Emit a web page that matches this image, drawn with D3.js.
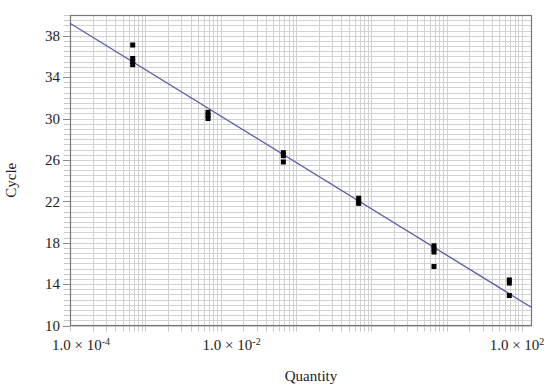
<!DOCTYPE html>
<html>
<head>
<meta charset="utf-8">
<script src="https://cdn.jsdelivr.net/npm/d3@7"></script>
<style>
  body { margin: 0; background: #fff; }
  svg { display: block; font-family: "Liberation Serif", "DejaVu Serif", serif; }
  .grid line { stroke: #d2d2d2; stroke-width: 1px; }
  .minor-tick { stroke: #c8c8c8; stroke-width: 1px; }
  .major-tick { stroke: #888; stroke-width: 1px; }
  .tick-label { font-size: 15px; fill: #222; }
  .axis-title { font-size: 15px; fill: #222; }
  .fit-line { stroke: #5b5ea6; stroke-width: 1.3px; fill: none; }
  .point { fill: #000; }
</style>
</head>
<body>
<svg id="chart" width="550" height="388"></svg>
<script>
// dilution series (Quantity) and measured cycles per dilution
const quantities = [6.8e-4, 6.8e-3, 6.8e-2, 6.8e-1, 6.8, 68];
const cycles = [
  [37.1, 35.8, 35.5, 35.2],
  [30.6, 30.3, 30.0],
  [26.7, 26.4, 25.8],
  [22.3, 22.0, 21.8],
  [17.7, 17.4, 17.1, 15.7],
  [14.4, 14.1, 12.9]
];
// standard curve: Cycle = intercept + slope * log10(Quantity)
const fitSlope = -4.48;
const fitIntercept = 21.28;

const xTicks = [1e-4, 1e-2, 1e2];
const xTickExp = ['-4', '-2', '2'];
const yTicks = [10, 14, 18, 22, 26, 30, 34, 38];

const margin = { top: 15, right: 18, bottom: 62, left: 70 };
const width = 550, height = 388;

const svg = d3.select('#chart');

const x = d3.scaleLog()
  .domain([1e-4, 136])
  .range([margin.left, width - margin.right]);

const y = d3.scaleLinear()
  .domain([10, 40])
  .range([height - margin.bottom - 0.5, margin.top]);

// log minor values for vertical grid
const xMinor = [];
for (let e = -4; e <= 2; e++) {
  for (let m = 1; m <= 9; m++) {
    const v = m * Math.pow(10, e);
    if (v >= x.domain()[0] && v <= x.domain()[1]) xMinor.push(v);
  }
}
const yMinor = d3.range(10, 40.01, 0.5);

// grid
const grid = svg.append('g').attr('class', 'grid');
grid.selectAll('.vg')
  .data(xMinor)
  .enter().append('line')
  .attr('x1', d => Math.round(x(d)) + 0.5)
  .attr('x2', d => Math.round(x(d)) + 0.5)
  .attr('y1', margin.top)
  .attr('y2', y(10));

grid.selectAll('.hg')
  .data(yMinor)
  .enter().append('line')
  .attr('x1', margin.left)
  .attr('x2', width - margin.right)
  .attr('y1', d => Math.round(y(d)) + 0.5)
  .attr('y2', d => Math.round(y(d)) + 0.5);

// outer minor ticks
svg.append('g').selectAll('line')
  .data(yMinor)
  .enter().append('line')
  .attr('class', 'minor-tick')
  .attr('x1', margin.left - 6)
  .attr('x2', margin.left)
  .attr('y1', d => Math.round(y(d)) + 0.5)
  .attr('y2', d => Math.round(y(d)) + 0.5);

svg.append('g').selectAll('line')
  .data(xMinor)
  .enter().append('line')
  .attr('class', 'minor-tick')
  .attr('x1', d => Math.round(x(d)) + 0.5)
  .attr('x2', d => Math.round(x(d)) + 0.5)
  .attr('y1', y(10))
  .attr('y2', y(10) + 6);

// major y ticks and labels
svg.append('g').selectAll('line')
  .data(yTicks)
  .enter().append('line')
  .attr('class', 'major-tick')
  .attr('x1', margin.left - 7)
  .attr('x2', margin.left)
  .attr('y1', d => Math.round(y(d)) + 0.5)
  .attr('y2', d => Math.round(y(d)) + 0.5);

svg.append('g').selectAll('text')
  .data(yTicks)
  .enter().append('text')
  .attr('class', 'tick-label')
  .attr('x', margin.left - 10)
  .attr('y', d => y(d))
  .attr('dy', '0.35em')
  .attr('text-anchor', 'end')
  .text(d => d);

// x tick labels: 1.0 × 10^n  (kept inside the window on the right)
const xl = svg.append('g').selectAll('text')
  .data(xTicks)
  .enter().append('text')
  .attr('class', 'tick-label')
  .attr('x', d => Math.min(x(d) + 11, width - 33))
  .attr('y', y(10) + 24)
  .attr('text-anchor', 'middle');
xl.append('tspan').text('1.0 \u00d7 10');
xl.append('tspan')
  .attr('dy', '-0.45em')
  .style('font-size', '10px')
  .text((d, i) => xTickExp[i]);

// frame
svg.append('rect')
  .attr('x', margin.left + 0.5)
  .attr('y', margin.top + 0.5)
  .attr('width', width - margin.right - margin.left - 1)
  .attr('height', y(10) - margin.top - 0.5)
  .attr('fill', 'none')
  .attr('stroke', '#777')
  .attr('stroke-width', 1.2);

// fit line
const lineGen = d3.line()
  .x(d => x(d))
  .y(d => y(fitIntercept + fitSlope * Math.log10(d)));
svg.append('path')
  .datum(x.domain())
  .attr('class', 'fit-line')
  .attr('d', lineGen);

// points
const pts = [];
quantities.forEach((q, i) => cycles[i].forEach(c => pts.push({ q, c })));
svg.append('g').selectAll('rect')
  .data(pts)
  .enter().append('rect')
  .attr('class', 'point')
  .attr('x', d => x(d.q) - 2.5)
  .attr('y', d => y(d.c) - 2.5)
  .attr('width', 5)
  .attr('height', 5);

// axis titles
svg.append('text')
  .attr('class', 'axis-title')
  .attr('x', (margin.left + width - margin.right) / 2 + 10)
  .attr('y', 381)
  .attr('text-anchor', 'middle')
  .text('Quantity');

svg.append('text')
  .attr('class', 'axis-title')
  .attr('transform', `translate(16,${(margin.top + y(10)) / 2 + 10}) rotate(-90)`)
  .attr('text-anchor', 'middle')
  .text('Cycle');
</script>
</body>
</html>
